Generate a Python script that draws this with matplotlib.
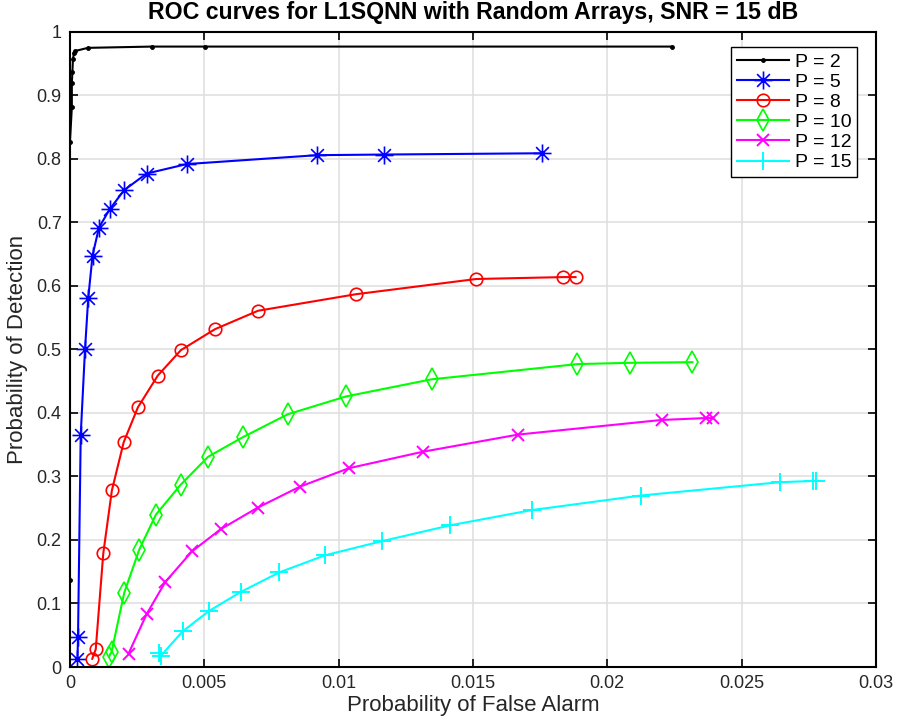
import matplotlib
matplotlib.use("Agg")
import matplotlib.pyplot as plt
from matplotlib.path import Path
import numpy as np

plt.rcParams['font.family'] = ['Liberation Sans', 'DejaVu Sans']

title = "ROC curves for L1SQNN with Random Arrays, SNR = 15 dB"
xlabel = "Probability of False Alarm"
ylabel = "Probability of Detection"

p2_x = [0.0, 0.0, 0.00007, 0.00007, 0.00009, 0.00011, 0.00015, 0.00019, 0.00067, 0.00305, 0.00502, 0.0224]
p2_y = [0.137, 0.827, 0.882, 0.92, 0.937, 0.957, 0.967, 0.970, 0.975, 0.977, 0.977, 0.977]

p5_x = [0.00028, 0.00030, 0.00040, 0.00056, 0.00068, 0.00084, 0.00108, 0.00148, 0.00202, 0.00285, 0.00435, 0.0092, 0.0117, 0.01757]
p5_y = [0.013, 0.048, 0.365, 0.500, 0.581, 0.648, 0.692, 0.721, 0.751, 0.777, 0.792, 0.806, 0.807, 0.809]

p8_x = [0.00083, 0.00096, 0.00124, 0.00156, 0.0020, 0.00253, 0.00327, 0.00413, 0.0054, 0.0070, 0.01064, 0.01512, 0.01836, 0.01882]
p8_y = [0.013, 0.028, 0.179, 0.278, 0.354, 0.409, 0.459, 0.499, 0.532, 0.561, 0.587, 0.611, 0.614, 0.614]

p10_x = [0.00145, 0.00155, 0.00202, 0.00258, 0.0032, 0.00412, 0.00514, 0.00644, 0.00811, 0.01027, 0.01346, 0.01889, 0.02083, 0.02317]
p10_y = [0.016, 0.024, 0.117, 0.185, 0.240, 0.287, 0.331, 0.362, 0.398, 0.426, 0.453, 0.477, 0.479, 0.480]

p12_x = [0.00218, 0.00285, 0.00355, 0.00454, 0.00561, 0.00699, 0.00856, 0.01038, 0.01314, 0.01668, 0.02202, 0.02367, 0.02392]
p12_y = [0.021, 0.083, 0.134, 0.182, 0.217, 0.251, 0.284, 0.313, 0.339, 0.366, 0.389, 0.392, 0.392]

p15_x = [0.00332, 0.00339, 0.00419, 0.00517, 0.00635, 0.00779, 0.0095, 0.0116, 0.01414, 0.01718, 0.02124, 0.02642, 0.02766, 0.02776]
p15_y = [0.022, 0.018, 0.056, 0.088, 0.118, 0.149, 0.176, 0.198, 0.223, 0.247, 0.270, 0.291, 0.293, 0.293]

# MATLAB-style asterisk (+ and x combined)
d = np.sqrt(0.5)
star_verts = [(-1, 0), (1, 0), (0, -1), (0, 1), (-d, -d), (d, d), (-d, d), (d, -d)]
star_codes = [Path.MOVETO, Path.LINETO] * 4
star = Path(star_verts, star_codes)

series = [
    (p2_x, p2_y, "P = 2", "k", ".", 5, 1.0),
    (p5_x, p5_y, "P = 5", "#0000ff", star, 13, 1.2),
    (p8_x, p8_y, "P = 8", "#ff0000", "o", 9, 1.2),
    (p10_x, p10_y, "P = 10", "#00ff00", "d", 11, 1.2),
    (p12_x, p12_y, "P = 12", "#ff00ff", "x", 9, 1.4),
    (p15_x, p15_y, "P = 15", "#00ffff", "+", 13, 1.4),
]

fig = plt.figure(figsize=(8.97, 7.25), dpi=100)
ax = fig.add_axes([0.078, 0.08, 0.8985, 0.8759])

for xs, ys, lab, c, m, ms, mew in series:
    ax.plot(xs, ys, color=c, marker=m, markersize=ms,
            markerfacecolor='none' if (m in ('o', 'd') or m is star) else c,
            markeredgecolor=c, markeredgewidth=mew, linewidth=1.5, label=lab)

ax.set_xlim(0, 0.03)
ax.set_ylim(0, 1)
ax.set_xticks([0, 0.005, 0.01, 0.015, 0.02, 0.025, 0.03])
ax.set_xticklabels(["0", "0.005", "0.01", "0.015", "0.02", "0.025", "0.03"])
ax.set_yticks([i / 10 for i in range(11)])
ax.set_yticklabels(["0", "0.1", "0.2", "0.3", "0.4", "0.5", "0.6", "0.7", "0.8", "0.9", "1"])
ax.grid(True, color='#e0e0e0', linewidth=1.2)
ax.set_axisbelow(True)
ax.tick_params(direction='in', top=True, right=True, length=6, width=1.2, labelsize=13,
               labelcolor='#262626', pad=6)
for s in ax.spines.values():
    s.set_linewidth(1.5)
ax.set_xlabel(xlabel, fontsize=16, labelpad=2, color='#262626')
ax.set_ylabel(ylabel, fontsize=16, labelpad=6, color='#262626')
ax.set_title(title, fontsize=16.7, fontweight='bold', pad=9)

leg = ax.legend(loc='upper right', bbox_to_anchor=(0.977, 0.976), fontsize=14, frameon=True, fancybox=False,
                edgecolor='k', framealpha=1, handlelength=2.7, borderpad=0.3, labelspacing=0.13,
                handletextpad=0.3, borderaxespad=0)
leg.get_frame().set_linewidth(1.0)

fig.savefig("out.png", dpi=100)
